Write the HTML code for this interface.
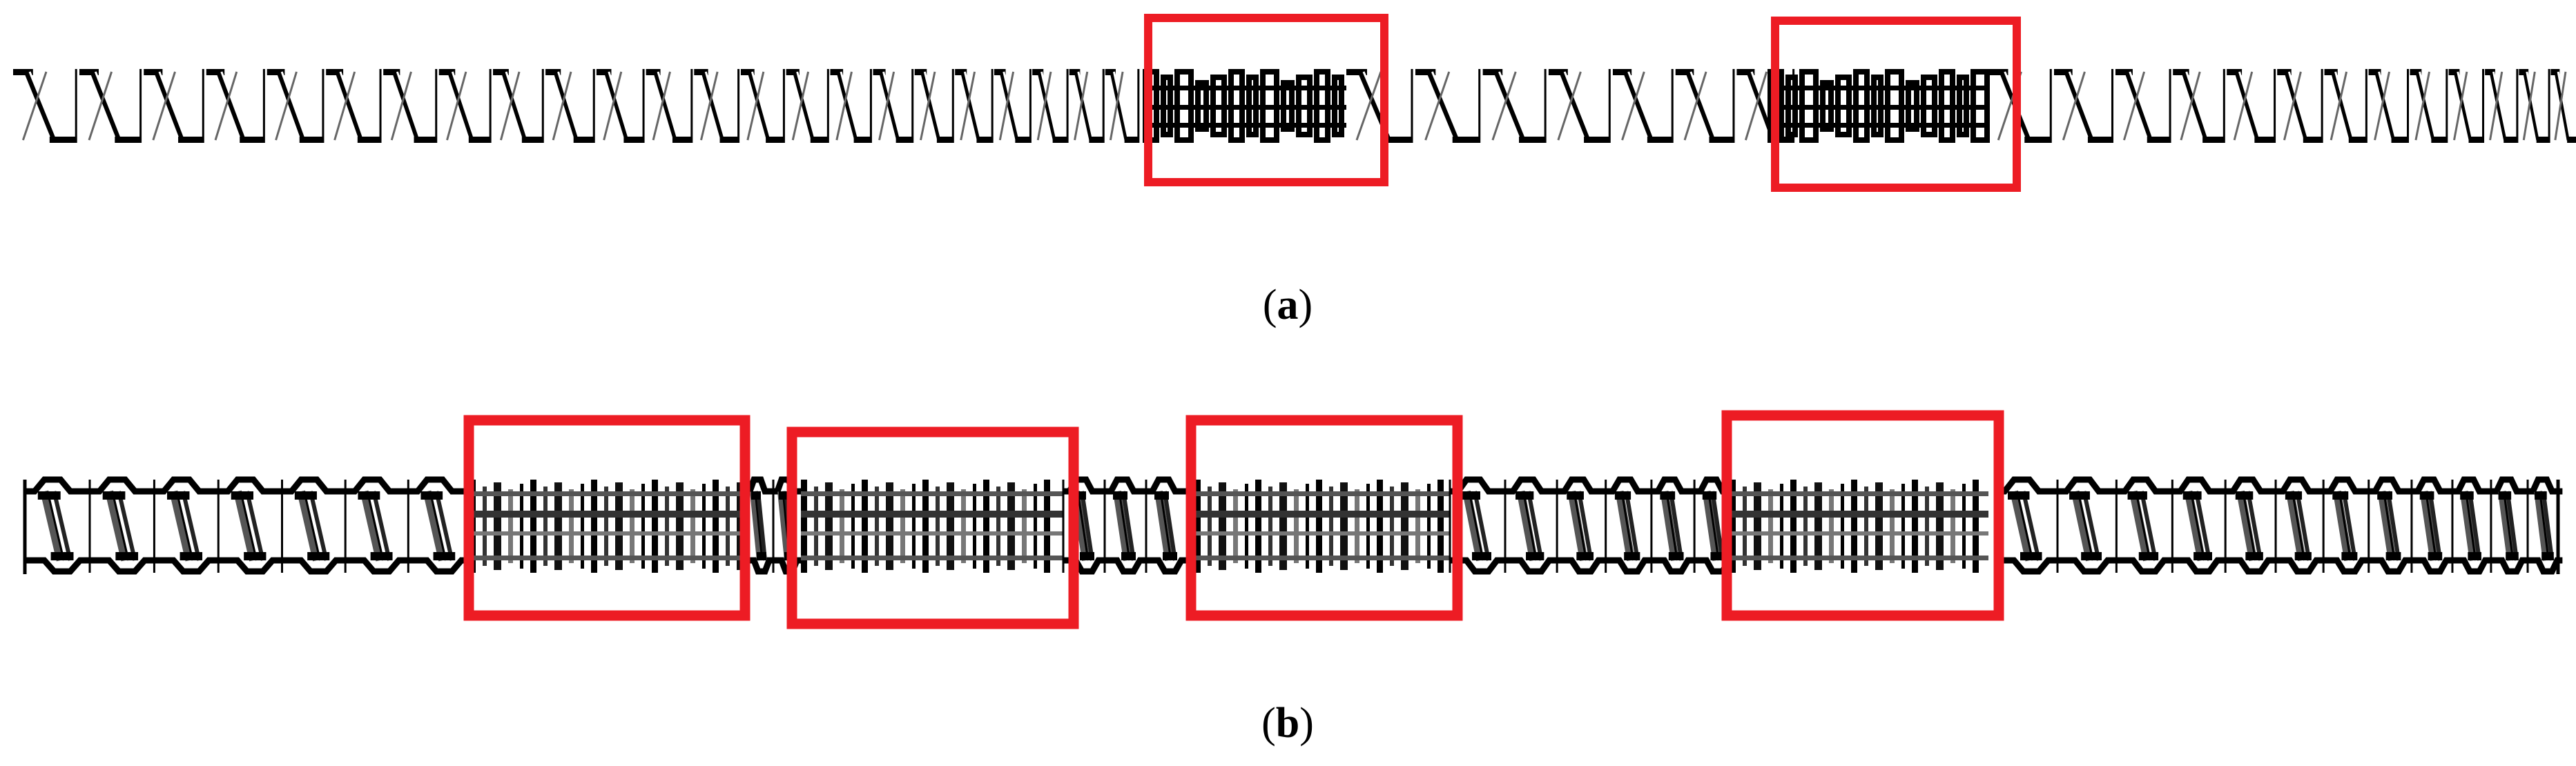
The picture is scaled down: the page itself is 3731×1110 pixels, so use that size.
<!DOCTYPE html>
<html><head><meta charset="utf-8"><style>
html,body{margin:0;padding:0;background:#fff;}
svg{display:block}
</style></head><body>
<svg id="s" width="3731" height="1110" viewBox="0 0 3731 1110" xmlns="http://www.w3.org/2000/svg">
<g id="g"></g>
<rect x="1663" y="26" width="342" height="238" fill="none" stroke="#ed1c24" stroke-width="12"/>
<rect x="2571" y="30" width="350" height="242" fill="none" stroke="#ed1c24" stroke-width="12"/>
<rect x="679" y="609" width="400" height="283" fill="none" stroke="#ed1c24" stroke-width="15"/>
<rect x="1147" y="626" width="408" height="278" fill="none" stroke="#ed1c24" stroke-width="15"/>
<rect x="1725" y="609" width="386" height="283" fill="none" stroke="#ed1c24" stroke-width="15"/>
<rect x="2501" y="602" width="394" height="290" fill="none" stroke="#ed1c24" stroke-width="15"/>
<text x="1865" y="462" font-family="Liberation Serif, serif" font-size="62" text-anchor="middle">(<tspan font-weight="bold">a</tspan>)</text>
<text x="1865" y="1068" font-family="Liberation Serif, serif" font-size="62" text-anchor="middle">(<tspan font-weight="bold">b</tspan>)</text>
</svg>
<script>
var g=document.getElementById('g'),o='';
function L(x1,y1,x2,y2,w,c){o+='<line x1="'+x1+'" y1="'+y1+'" x2="'+x2+'" y2="'+y2+'" stroke="'+(c||'#000')+'" stroke-width="'+w+'"/>';}
function R(x,y,w,h,c){o+='<rect x="'+x+'" y="'+y+'" width="'+w+'" height="'+h+'" fill="'+(c||'#000')+'"/>';}
// top strip y 100-207
function topConv(x0,x1,p0,p1){var x=x0;while(x<x1-10){var t=(x-x0)/(x1-x0);var p=p0+(p1-p0)*t;
 R(x,100,p*0.3,9);L(x+p*0.2,104,x+p*0.62,203,7);L(x+p*0.25,104,x+p*0.67,203,3,'#fff');R(x+p*0.55,198,p*0.4,9);
 L(x+p*0.5,104,x+p*0.15,203,3,'#666');L(x+p*0.95,100,x+p*0.95,207,3);x+=p;}}
function topKnead(x0,x1){var x=x0,i=0;while(x<x1-10){var w=[24,18,28,20,24][i%5];var off=[0,8,0,16,8][i%5];
 R(x,100+off,w,107-2*off);R(x+8,100+off+8,w-16,107-2*off-16,'#fff');x+=w+2;i++;}
 for(var k=0;k<3;k++){var yy=[124,152,178][k];R(x0,yy,x1-x0,7);}}
topConv(19,1620,96,50);topKnead(1655,1950);topConv(1950,2580,100,85);topKnead(2560,2880);topConv(2880,3712,95,42);
// bottom strip y 691-832
function botConv(x0,x1,p0,p1){var x=x0;while(x<x1-10){var t=(x-x0)/(x1-x0);var p=p0+(p1-p0)*t;
 o+='<polyline points="'+x+',712 '+(x+p*0.15)+',712 '+(x+p*0.3)+',695 '+(x+p*0.55)+',695 '+(x+p*0.7)+',712 '+(x+p)+',712" fill="none" stroke="#000" stroke-width="9"/>';
 o+='<polyline points="'+x+',812 '+(x+p*0.3)+',812 '+(x+p*0.45)+',828 '+(x+p*0.7)+',828 '+(x+p*0.85)+',812 '+(x+p)+',812" fill="none" stroke="#000" stroke-width="9"/>';
 L(x+p*0.3,712,x+p*0.55,812,12,'#555');L(x+p*0.35,712,x+p*0.6,812,3,'#000');
 L(x+p*0.45,712,x+p*0.7,812,6,'#222');
 R(x+p*0.2,712,p*0.35,12);R(x+p*0.4,800,p*0.35,12);L(x,695,x,830,3);x+=p;}}
function botKnead(x0,x1){var x=x0,i=0;while(x<x1-10){var w=[9,6,11,7,5][i%5];var off=[0,10,4,14,6][i%5];var c=['#000','#333','#111','#777','#000'][i%5];
 R(x,695+off,w,135-2*off,c);x+=w+10;i++;}
 R(x0,740,x1-x0,10,'#333');R(x0,770,x1-x0,6,'#777');R(x0,712,x1-x0,7,'#555');R(x0,805,x1-x0,7,'#555');}
botConv(36,680,94,90);botKnead(680,1080);botConv(1080,1160,40,40);botKnead(1160,1540);botConv(1540,1730,60,60);botKnead(1730,2100);botConv(2100,2510,80,55);botKnead(2505,2880);botConv(2890,3707,90,48);
L(36,695,36,832,5);L(3705,695,3705,832,5);
g.innerHTML=o;
</script>
</body></html>
